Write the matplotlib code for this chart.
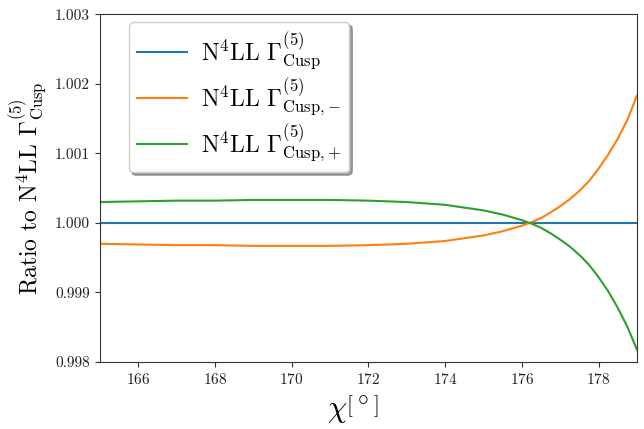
import matplotlib
matplotlib.use("Agg")
import matplotlib.pyplot as plt
import numpy as np

plt.rcParams['font.family'] = 'cmr10'
plt.rcParams['mathtext.fontset'] = 'cm'
plt.rcParams['axes.formatter.use_mathtext'] = True

chi = [165, 166, 167, 168, 169, 170, 171, 172, 173, 174, 175, 175.5, 176,
       176.25, 176.5, 176.75, 177, 177.25, 177.5, 177.75, 178, 178.25,
       178.5, 178.75, 179]
ratio_cusp = [1.0] * len(chi)
ratio_minus = [0.99970, 0.99969, 0.99968, 0.99968, 0.99967, 0.99967, 0.99967,
               0.99968, 0.99970, 0.99974, 0.99982, 0.99988, 0.99996,
               1.00001, 1.00007, 1.00015, 1.00024, 1.00034, 1.00046,
               1.00060, 1.00078, 1.00098, 1.00121, 1.00148, 1.00183]
ratio_plus = [1.00030, 1.00031, 1.00032, 1.00032, 1.00033, 1.00033, 1.00033,
              1.00032, 1.00030, 1.00026, 1.00018, 1.00012, 1.00004,
              0.99999, 0.99993, 0.99985, 0.99976, 0.99966, 0.99954,
              0.99940, 0.99922, 0.99902, 0.99878, 0.99851, 0.99818]

labels = [r'N$^4$LL $\Gamma^{(5)}_{\rm Cusp}$',
          r'N$^4$LL $\Gamma^{(5)}_{\rm Cusp,\!-}$',
          r'N$^4$LL $\Gamma^{(5)}_{\rm Cusp,\!+}$']
colors = ['#1f77b4', '#ff7f0e', '#2ca02c']

fig = plt.figure(figsize=(6.44, 4.29), dpi=100)
ax = fig.add_axes([0.155, 0.156, 0.834, 0.811])

for y, lab, c in zip([ratio_cusp, ratio_minus, ratio_plus], labels, colors):
    ax.plot(chi, y, color=c, lw=1.5, label=lab)

ax.set_xlim(165, 179)
ax.set_ylim(0.998, 1.003)
ax.set_xticks([166, 168, 170, 172, 174, 176, 178])
ax.set_yticks([0.998, 0.999, 1.000, 1.001, 1.002, 1.003])
ax.set_yticklabels(['0.998', '0.999', '1.000', '1.001', '1.002', '1.003'])
ax.tick_params(labelsize=11, colors='#333333', labelcolor='#222222')
for s in ax.spines.values():
    s.set_color('#333333')

ax.set_xlabel(r'$\chi\left[^\circ\right]$', fontsize=22)
ax.xaxis.set_label_coords(0.472, -0.09)
ax.set_ylabel(r'Ratio to N$^4$LL $\Gamma^{(5)}_{\rm Cusp}$', fontsize=17, labelpad=4)

leg = ax.legend(loc='upper left', bbox_to_anchor=(0.054, 0.977), fontsize=17,
                shadow=True, fancybox=True, handlelength=2.1,
                handletextpad=0.6, labelspacing=0.2, borderpad=0.35,
                borderaxespad=0)

fig.savefig('out.png', dpi=100)
